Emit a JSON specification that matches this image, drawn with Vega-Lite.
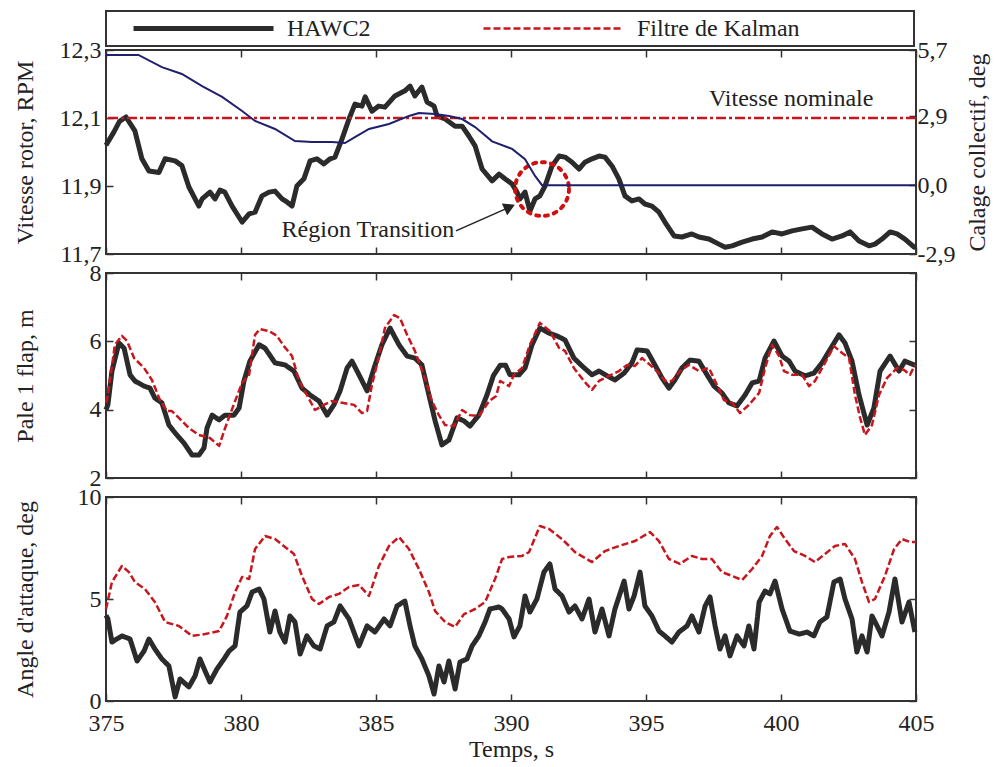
{
  "$schema": "https://vega.github.io/schema/vega-lite/v6.json",
  "padding": {"left": 11, "top": 10, "right": 5, "bottom": 5},
  "background": "white",
  "spacing": 19,
  "bounds": "flush",
  "config": {
    "font": "Liberation Serif",
    "view": {"stroke": "#333333", "strokeWidth": 2},
    "axis": {
      "grid": false, "domain": false,
      "labelFont": "Liberation Serif", "labelFontSize": 24, "labelColor": "#222222",
      "titleFont": "Liberation Serif", "titleFontSize": 24, "titleFontWeight": "normal", "titleColor": "#222222",
      "tickColor": "#333333", "tickWidth": 1.5, "tickSize": -7,
      "labelFlush": false, "labelOverlap": false
    },
    "legend": {
      "direction": "horizontal", "columns": 2,
      "strokeColor": "#333333", "strokeWidth": 2, "padding": 5,
      "symbolType": "stroke", "symbolSize": 19600,
      "symbolOffset": 20, "labelOffset": 11, "columnPadding": 90,
      "clipHeight": 25,
      "labelFont": "Liberation Serif", "labelFontSize": 24, "labelColor": "#222222", "labelLimit": 400,
      "titleOrient": "right", "titlePadding": 109, "titleFont": "Liberation Serif", "titleFontSize": 24
    }
  },
  "resolve": {"scale": {"color": "shared", "strokeDash": "shared", "strokeWidth": "shared"}},
  "datasets": {
    "rotor": [
      {"t":375.0,"rpm":12.02},{"t":375.3,"rpm":12.06},{"t":375.5,"rpm":12.09},{"t":375.74,"rpm":12.103},{"t":376.07,"rpm":12.062},{"t":376.33,"rpm":11.98},{"t":376.59,"rpm":11.944},{"t":376.96,"rpm":11.94},{"t":377.19,"rpm":11.98},{"t":377.56,"rpm":11.974},{"t":377.81,"rpm":11.96},{"t":378.07,"rpm":11.897},{"t":378.44,"rpm":11.841},{"t":378.56,"rpm":11.862},{"t":378.85,"rpm":11.882},{"t":379.04,"rpm":11.862},{"t":379.22,"rpm":11.888},{"t":379.4,"rpm":11.882},{"t":379.67,"rpm":11.841},{"t":380.04,"rpm":11.794},{"t":380.3,"rpm":11.818},{"t":380.52,"rpm":11.823},{"t":380.78,"rpm":11.871},{"t":381.04,"rpm":11.882},{"t":381.26,"rpm":11.885},{"t":381.52,"rpm":11.862},{"t":381.7,"rpm":11.853},{"t":381.89,"rpm":11.841},{"t":382.07,"rpm":11.9},{"t":382.33,"rpm":11.921},{"t":382.56,"rpm":11.974},{"t":382.81,"rpm":11.98},{"t":383.07,"rpm":11.965},{"t":383.3,"rpm":11.98},{"t":383.48,"rpm":11.985},{"t":383.74,"rpm":12.038},{"t":384.0,"rpm":12.097},{"t":384.22,"rpm":12.141},{"t":384.48,"rpm":12.135},{"t":384.6,"rpm":12.162},{"t":384.85,"rpm":12.12},{"t":385.1,"rpm":12.135},{"t":385.33,"rpm":12.132},{"t":385.7,"rpm":12.165},{"t":386.07,"rpm":12.18},{"t":386.26,"rpm":12.194},{"t":386.44,"rpm":12.165},{"t":386.7,"rpm":12.191},{"t":386.89,"rpm":12.147},{"t":387.15,"rpm":12.135},{"t":387.26,"rpm":12.106},{"t":387.56,"rpm":12.097},{"t":387.93,"rpm":12.076},{"t":388.19,"rpm":12.076},{"t":388.44,"rpm":12.047},{"t":388.67,"rpm":12.018},{"t":388.93,"rpm":11.95},{"t":389.3,"rpm":11.915},{"t":389.56,"rpm":11.935},{"t":389.8,"rpm":11.92},{"t":390.04,"rpm":11.906},{"t":390.22,"rpm":11.882},{"t":390.33,"rpm":11.862},{"t":390.52,"rpm":11.882},{"t":390.7,"rpm":11.826},{"t":390.89,"rpm":11.862},{"t":391.07,"rpm":11.871},{"t":391.26,"rpm":11.9},{"t":391.52,"rpm":11.959},{"t":391.78,"rpm":11.988},{"t":392.0,"rpm":11.985},{"t":392.26,"rpm":11.97},{"t":392.52,"rpm":11.95},{"t":392.74,"rpm":11.97},{"t":393.0,"rpm":11.98},{"t":393.26,"rpm":11.988},{"t":393.48,"rpm":11.985},{"t":393.74,"rpm":11.959},{"t":394.0,"rpm":11.92},{"t":394.22,"rpm":11.871},{"t":394.48,"rpm":11.856},{"t":394.74,"rpm":11.862},{"t":394.96,"rpm":11.847},{"t":395.22,"rpm":11.841},{"t":395.48,"rpm":11.823},{"t":395.7,"rpm":11.794},{"t":396.04,"rpm":11.753},{"t":396.33,"rpm":11.75},{"t":396.7,"rpm":11.759},{"t":396.96,"rpm":11.75},{"t":397.33,"rpm":11.744},{"t":397.7,"rpm":11.729},{"t":397.93,"rpm":11.72},{"t":398.19,"rpm":11.724},{"t":398.56,"rpm":11.735},{"t":398.93,"rpm":11.744},{"t":399.3,"rpm":11.75},{"t":399.67,"rpm":11.765},{"t":400.04,"rpm":11.759},{"t":400.41,"rpm":11.768},{"t":400.78,"rpm":11.774},{"t":401.15,"rpm":11.779},{"t":401.52,"rpm":11.759},{"t":401.89,"rpm":11.744},{"t":402.26,"rpm":11.753},{"t":402.56,"rpm":11.765},{"t":402.89,"rpm":11.738},{"t":403.26,"rpm":11.724},{"t":403.48,"rpm":11.729},{"t":403.74,"rpm":11.744},{"t":404.04,"rpm":11.765},{"t":404.3,"rpm":11.759},{"t":404.59,"rpm":11.744},{"t":404.93,"rpm":11.72},{"t":405.0,"rpm":11.72}
    ],
    "pitch": [
      {"t":375.0,"deg":5.49},{"t":376.2,"deg":5.49},{"t":377.07,"deg":4.98},{"t":377.81,"deg":4.69},{"t":378.56,"deg":4.18},{"t":379.3,"deg":3.72},{"t":380.04,"deg":3.13},{"t":380.52,"deg":2.71},{"t":381.26,"deg":2.37},{"t":382.0,"deg":1.86},{"t":382.63,"deg":1.82},{"t":383.37,"deg":1.82},{"t":383.85,"deg":1.78},{"t":384.22,"deg":2.03},{"t":384.74,"deg":2.37},{"t":385.48,"deg":2.58},{"t":386.22,"deg":2.92},{"t":386.59,"deg":3.04},{"t":387.19,"deg":3.0},{"t":387.7,"deg":2.92},{"t":388.19,"deg":2.79},{"t":388.67,"deg":2.45},{"t":389.3,"deg":1.85},{"t":390.04,"deg":1.53},{"t":390.52,"deg":1.1},{"t":390.89,"deg":0.39},{"t":391.15,"deg":0.0},{"t":405.0,"deg":0.0}
    ],
    "flap": [
      {"t":375.0,"m":4.0,"source":"HAWC2"},{"t":375.07,"m":4.14,"source":"HAWC2"},{"t":375.22,"m":5.13,"source":"HAWC2"},{"t":375.48,"m":5.95,"source":"HAWC2"},{"t":375.67,"m":5.8,"source":"HAWC2"},{"t":375.89,"m":5.02,"source":"HAWC2"},{"t":376.07,"m":4.84,"source":"HAWC2"},{"t":376.41,"m":4.69,"source":"HAWC2"},{"t":376.63,"m":4.63,"source":"HAWC2"},{"t":376.81,"m":4.34,"source":"HAWC2"},{"t":377.07,"m":4.2,"source":"HAWC2"},{"t":377.33,"m":3.55,"source":"HAWC2"},{"t":377.56,"m":3.32,"source":"HAWC2"},{"t":377.89,"m":3.02,"source":"HAWC2"},{"t":378.19,"m":2.67,"source":"HAWC2"},{"t":378.44,"m":2.67,"source":"HAWC2"},{"t":378.63,"m":2.88,"source":"HAWC2"},{"t":378.74,"m":3.46,"source":"HAWC2"},{"t":378.93,"m":3.84,"source":"HAWC2"},{"t":379.19,"m":3.7,"source":"HAWC2"},{"t":379.41,"m":3.84,"source":"HAWC2"},{"t":379.74,"m":3.84,"source":"HAWC2"},{"t":379.93,"m":4.05,"source":"HAWC2"},{"t":380.11,"m":4.84,"source":"HAWC2"},{"t":380.33,"m":5.42,"source":"HAWC2"},{"t":380.67,"m":5.9,"source":"HAWC2"},{"t":380.89,"m":5.8,"source":"HAWC2"},{"t":381.26,"m":5.37,"source":"HAWC2"},{"t":381.63,"m":5.31,"source":"HAWC2"},{"t":381.96,"m":5.13,"source":"HAWC2"},{"t":382.26,"m":4.63,"source":"HAWC2"},{"t":382.56,"m":4.43,"source":"HAWC2"},{"t":382.89,"m":4.25,"source":"HAWC2"},{"t":383.19,"m":3.84,"source":"HAWC2"},{"t":383.44,"m":4.14,"source":"HAWC2"},{"t":383.67,"m":4.55,"source":"HAWC2"},{"t":383.93,"m":5.22,"source":"HAWC2"},{"t":384.11,"m":5.42,"source":"HAWC2"},{"t":384.37,"m":5.02,"source":"HAWC2"},{"t":384.67,"m":4.55,"source":"HAWC2"},{"t":384.93,"m":5.22,"source":"HAWC2"},{"t":385.22,"m":5.9,"source":"HAWC2"},{"t":385.52,"m":6.39,"source":"HAWC2"},{"t":385.85,"m":5.9,"source":"HAWC2"},{"t":386.15,"m":5.57,"source":"HAWC2"},{"t":386.44,"m":5.51,"source":"HAWC2"},{"t":386.7,"m":5.31,"source":"HAWC2"},{"t":386.96,"m":4.43,"source":"HAWC2"},{"t":387.19,"m":3.67,"source":"HAWC2"},{"t":387.44,"m":2.97,"source":"HAWC2"},{"t":387.7,"m":3.11,"source":"HAWC2"},{"t":388.0,"m":3.76,"source":"HAWC2"},{"t":388.26,"m":3.67,"source":"HAWC2"},{"t":388.48,"m":3.52,"source":"HAWC2"},{"t":388.81,"m":3.84,"source":"HAWC2"},{"t":389.11,"m":4.43,"source":"HAWC2"},{"t":389.35,"m":5.0,"source":"HAWC2"},{"t":389.6,"m":5.3,"source":"HAWC2"},{"t":389.8,"m":5.3,"source":"HAWC2"},{"t":389.96,"m":5.02,"source":"HAWC2"},{"t":390.3,"m":5.02,"source":"HAWC2"},{"t":390.52,"m":5.22,"source":"HAWC2"},{"t":390.78,"m":5.9,"source":"HAWC2"},{"t":391.07,"m":6.39,"source":"HAWC2"},{"t":391.41,"m":6.24,"source":"HAWC2"},{"t":391.7,"m":6.16,"source":"HAWC2"},{"t":392.0,"m":6.04,"source":"HAWC2"},{"t":392.33,"m":5.51,"source":"HAWC2"},{"t":392.63,"m":5.28,"source":"HAWC2"},{"t":393.0,"m":5.02,"source":"HAWC2"},{"t":393.26,"m":5.13,"source":"HAWC2"},{"t":393.56,"m":4.99,"source":"HAWC2"},{"t":393.85,"m":4.87,"source":"HAWC2"},{"t":394.19,"m":5.07,"source":"HAWC2"},{"t":394.48,"m":5.37,"source":"HAWC2"},{"t":394.67,"m":5.75,"source":"HAWC2"},{"t":395.04,"m":5.72,"source":"HAWC2"},{"t":395.33,"m":5.31,"source":"HAWC2"},{"t":395.59,"m":4.93,"source":"HAWC2"},{"t":395.85,"m":4.63,"source":"HAWC2"},{"t":396.07,"m":4.87,"source":"HAWC2"},{"t":396.33,"m":5.22,"source":"HAWC2"},{"t":396.63,"m":5.45,"source":"HAWC2"},{"t":396.96,"m":5.42,"source":"HAWC2"},{"t":397.26,"m":5.02,"source":"HAWC2"},{"t":397.52,"m":4.69,"source":"HAWC2"},{"t":397.81,"m":4.49,"source":"HAWC2"},{"t":398.07,"m":4.2,"source":"HAWC2"},{"t":398.37,"m":4.11,"source":"HAWC2"},{"t":398.67,"m":4.43,"source":"HAWC2"},{"t":398.93,"m":4.78,"source":"HAWC2"},{"t":399.19,"m":4.84,"source":"HAWC2"},{"t":399.41,"m":5.51,"source":"HAWC2"},{"t":399.74,"m":6.01,"source":"HAWC2"},{"t":400.04,"m":5.57,"source":"HAWC2"},{"t":400.3,"m":5.42,"source":"HAWC2"},{"t":400.52,"m":5.13,"source":"HAWC2"},{"t":400.89,"m":4.99,"source":"HAWC2"},{"t":401.22,"m":5.07,"source":"HAWC2"},{"t":401.52,"m":5.37,"source":"HAWC2"},{"t":401.81,"m":5.75,"source":"HAWC2"},{"t":402.15,"m":6.19,"source":"HAWC2"},{"t":402.37,"m":5.95,"source":"HAWC2"},{"t":402.63,"m":5.42,"source":"HAWC2"},{"t":402.89,"m":4.43,"source":"HAWC2"},{"t":403.19,"m":3.55,"source":"HAWC2"},{"t":403.44,"m":4.05,"source":"HAWC2"},{"t":403.67,"m":5.13,"source":"HAWC2"},{"t":404.04,"m":5.57,"source":"HAWC2"},{"t":404.37,"m":5.13,"source":"HAWC2"},{"t":404.59,"m":5.42,"source":"HAWC2"},{"t":404.93,"m":5.31,"source":"HAWC2"},{"t":405.0,"m":5.3,"source":"HAWC2"},
      {"t":375.0,"m":4.2,"source":"Filtre de Kalman"},{"t":375.07,"m":4.43,"source":"Filtre de Kalman"},{"t":375.33,"m":5.9,"source":"Filtre de Kalman"},{"t":375.59,"m":6.16,"source":"Filtre de Kalman"},{"t":375.78,"m":6.01,"source":"Filtre de Kalman"},{"t":376.04,"m":5.51,"source":"Filtre de Kalman"},{"t":376.41,"m":5.22,"source":"Filtre de Kalman"},{"t":376.7,"m":4.87,"source":"Filtre de Kalman"},{"t":377.0,"m":4.28,"source":"Filtre de Kalman"},{"t":377.26,"m":3.96,"source":"Filtre de Kalman"},{"t":377.44,"m":3.96,"source":"Filtre de Kalman"},{"t":377.7,"m":3.76,"source":"Filtre de Kalman"},{"t":378.07,"m":3.46,"source":"Filtre de Kalman"},{"t":378.44,"m":3.26,"source":"Filtre de Kalman"},{"t":378.85,"m":3.17,"source":"Filtre de Kalman"},{"t":379.19,"m":2.94,"source":"Filtre de Kalman"},{"t":379.41,"m":3.46,"source":"Filtre de Kalman"},{"t":379.78,"m":4.25,"source":"Filtre de Kalman"},{"t":380.04,"m":4.78,"source":"Filtre de Kalman"},{"t":380.3,"m":5.02,"source":"Filtre de Kalman"},{"t":380.52,"m":6.19,"source":"Filtre de Kalman"},{"t":380.7,"m":6.36,"source":"Filtre de Kalman"},{"t":381.04,"m":6.3,"source":"Filtre de Kalman"},{"t":381.33,"m":6.16,"source":"Filtre de Kalman"},{"t":381.59,"m":5.86,"source":"Filtre de Kalman"},{"t":381.89,"m":5.57,"source":"Filtre de Kalman"},{"t":382.15,"m":4.84,"source":"Filtre de Kalman"},{"t":382.44,"m":4.43,"source":"Filtre de Kalman"},{"t":382.74,"m":3.99,"source":"Filtre de Kalman"},{"t":383.07,"m":4.14,"source":"Filtre de Kalman"},{"t":383.37,"m":4.25,"source":"Filtre de Kalman"},{"t":383.74,"m":4.2,"source":"Filtre de Kalman"},{"t":384.19,"m":4.14,"source":"Filtre de Kalman"},{"t":384.48,"m":3.9,"source":"Filtre de Kalman"},{"t":384.67,"m":3.96,"source":"Filtre de Kalman"},{"t":384.85,"m":4.72,"source":"Filtre de Kalman"},{"t":385.11,"m":5.57,"source":"Filtre de Kalman"},{"t":385.33,"m":6.39,"source":"Filtre de Kalman"},{"t":385.67,"m":6.77,"source":"Filtre de Kalman"},{"t":385.89,"m":6.68,"source":"Filtre de Kalman"},{"t":386.15,"m":6.19,"source":"Filtre de Kalman"},{"t":386.44,"m":5.72,"source":"Filtre de Kalman"},{"t":386.81,"m":4.93,"source":"Filtre de Kalman"},{"t":387.07,"m":4.25,"source":"Filtre de Kalman"},{"t":387.33,"m":3.84,"source":"Filtre de Kalman"},{"t":387.56,"m":3.55,"source":"Filtre de Kalman"},{"t":387.89,"m":3.52,"source":"Filtre de Kalman"},{"t":388.19,"m":3.99,"source":"Filtre de Kalman"},{"t":388.48,"m":3.84,"source":"Filtre de Kalman"},{"t":388.81,"m":3.81,"source":"Filtre de Kalman"},{"t":389.19,"m":4.25,"source":"Filtre de Kalman"},{"t":389.45,"m":4.4,"source":"Filtre de Kalman"},{"t":389.6,"m":4.84,"source":"Filtre de Kalman"},{"t":389.93,"m":4.69,"source":"Filtre de Kalman"},{"t":390.11,"m":5.02,"source":"Filtre de Kalman"},{"t":390.41,"m":5.22,"source":"Filtre de Kalman"},{"t":390.7,"m":5.9,"source":"Filtre de Kalman"},{"t":391.07,"m":6.54,"source":"Filtre de Kalman"},{"t":391.44,"m":6.3,"source":"Filtre de Kalman"},{"t":391.78,"m":5.81,"source":"Filtre de Kalman"},{"t":392.0,"m":5.72,"source":"Filtre de Kalman"},{"t":392.33,"m":5.22,"source":"Filtre de Kalman"},{"t":392.7,"m":4.84,"source":"Filtre de Kalman"},{"t":393.0,"m":4.58,"source":"Filtre de Kalman"},{"t":393.26,"m":4.84,"source":"Filtre de Kalman"},{"t":393.63,"m":4.99,"source":"Filtre de Kalman"},{"t":394.0,"m":5.13,"source":"Filtre de Kalman"},{"t":394.3,"m":5.31,"source":"Filtre de Kalman"},{"t":394.59,"m":5.28,"source":"Filtre de Kalman"},{"t":394.85,"m":5.51,"source":"Filtre de Kalman"},{"t":395.15,"m":5.31,"source":"Filtre de Kalman"},{"t":395.48,"m":5.07,"source":"Filtre de Kalman"},{"t":395.7,"m":4.84,"source":"Filtre de Kalman"},{"t":395.96,"m":4.84,"source":"Filtre de Kalman"},{"t":396.26,"m":5.13,"source":"Filtre de Kalman"},{"t":396.59,"m":5.31,"source":"Filtre de Kalman"},{"t":396.96,"m":5.13,"source":"Filtre de Kalman"},{"t":397.33,"m":5.22,"source":"Filtre de Kalman"},{"t":397.56,"m":4.84,"source":"Filtre de Kalman"},{"t":397.89,"m":4.28,"source":"Filtre de Kalman"},{"t":398.19,"m":4.2,"source":"Filtre de Kalman"},{"t":398.48,"m":3.9,"source":"Filtre de Kalman"},{"t":398.81,"m":4.14,"source":"Filtre de Kalman"},{"t":399.19,"m":4.49,"source":"Filtre de Kalman"},{"t":399.41,"m":5.22,"source":"Filtre de Kalman"},{"t":399.67,"m":5.9,"source":"Filtre de Kalman"},{"t":399.93,"m":5.57,"source":"Filtre de Kalman"},{"t":400.11,"m":5.13,"source":"Filtre de Kalman"},{"t":400.41,"m":5.02,"source":"Filtre de Kalman"},{"t":400.78,"m":5.02,"source":"Filtre de Kalman"},{"t":401.04,"m":4.69,"source":"Filtre de Kalman"},{"t":401.26,"m":4.84,"source":"Filtre de Kalman"},{"t":401.63,"m":5.37,"source":"Filtre de Kalman"},{"t":401.96,"m":5.86,"source":"Filtre de Kalman"},{"t":402.26,"m":5.66,"source":"Filtre de Kalman"},{"t":402.52,"m":5.51,"source":"Filtre de Kalman"},{"t":402.74,"m":4.43,"source":"Filtre de Kalman"},{"t":402.93,"m":3.76,"source":"Filtre de Kalman"},{"t":403.11,"m":3.26,"source":"Filtre de Kalman"},{"t":403.37,"m":3.55,"source":"Filtre de Kalman"},{"t":403.63,"m":4.43,"source":"Filtre de Kalman"},{"t":403.93,"m":4.93,"source":"Filtre de Kalman"},{"t":404.3,"m":5.22,"source":"Filtre de Kalman"},{"t":404.56,"m":5.16,"source":"Filtre de Kalman"},{"t":404.78,"m":5.02,"source":"Filtre de Kalman"},{"t":404.96,"m":5.31,"source":"Filtre de Kalman"}
    ],
    "aoa": [
      {"t":375.0,"deg":4.2,"source":"HAWC2"},{"t":375.07,"deg":4.02,"source":"HAWC2"},{"t":375.22,"deg":2.89,"source":"HAWC2"},{"t":375.59,"deg":3.19,"source":"HAWC2"},{"t":375.89,"deg":3.04,"source":"HAWC2"},{"t":376.15,"deg":1.96,"source":"HAWC2"},{"t":376.41,"deg":2.45,"source":"HAWC2"},{"t":376.59,"deg":3.04,"source":"HAWC2"},{"t":376.81,"deg":2.55,"source":"HAWC2"},{"t":377.07,"deg":2.06,"source":"HAWC2"},{"t":377.33,"deg":1.72,"source":"HAWC2"},{"t":377.56,"deg":0.2,"source":"HAWC2"},{"t":377.74,"deg":1.08,"source":"HAWC2"},{"t":378.07,"deg":0.69,"source":"HAWC2"},{"t":378.3,"deg":1.23,"source":"HAWC2"},{"t":378.48,"deg":2.06,"source":"HAWC2"},{"t":378.67,"deg":1.47,"source":"HAWC2"},{"t":378.85,"deg":0.93,"source":"HAWC2"},{"t":379.11,"deg":1.57,"source":"HAWC2"},{"t":379.37,"deg":2.06,"source":"HAWC2"},{"t":379.56,"deg":2.45,"source":"HAWC2"},{"t":379.78,"deg":2.7,"source":"HAWC2"},{"t":379.96,"deg":4.36,"source":"HAWC2"},{"t":380.22,"deg":4.66,"source":"HAWC2"},{"t":380.41,"deg":5.34,"source":"HAWC2"},{"t":380.67,"deg":5.49,"source":"HAWC2"},{"t":380.85,"deg":5.0,"source":"HAWC2"},{"t":381.07,"deg":3.38,"source":"HAWC2"},{"t":381.26,"deg":4.41,"source":"HAWC2"},{"t":381.44,"deg":3.38,"source":"HAWC2"},{"t":381.63,"deg":2.89,"source":"HAWC2"},{"t":381.81,"deg":4.17,"source":"HAWC2"},{"t":382.0,"deg":3.87,"source":"HAWC2"},{"t":382.19,"deg":2.3,"source":"HAWC2"},{"t":382.44,"deg":3.19,"source":"HAWC2"},{"t":382.7,"deg":2.7,"source":"HAWC2"},{"t":382.93,"deg":2.55,"source":"HAWC2"},{"t":383.19,"deg":3.68,"source":"HAWC2"},{"t":383.44,"deg":3.87,"source":"HAWC2"},{"t":383.67,"deg":4.66,"source":"HAWC2"},{"t":384.0,"deg":4.02,"source":"HAWC2"},{"t":384.37,"deg":2.7,"source":"HAWC2"},{"t":384.67,"deg":3.68,"source":"HAWC2"},{"t":384.96,"deg":3.38,"source":"HAWC2"},{"t":385.3,"deg":4.02,"source":"HAWC2"},{"t":385.52,"deg":3.68,"source":"HAWC2"},{"t":385.78,"deg":4.66,"source":"HAWC2"},{"t":386.07,"deg":4.9,"source":"HAWC2"},{"t":386.26,"deg":3.68,"source":"HAWC2"},{"t":386.44,"deg":2.7,"source":"HAWC2"},{"t":386.7,"deg":2.06,"source":"HAWC2"},{"t":386.96,"deg":1.23,"source":"HAWC2"},{"t":387.15,"deg":0.34,"source":"HAWC2"},{"t":387.33,"deg":1.72,"source":"HAWC2"},{"t":387.52,"deg":0.93,"source":"HAWC2"},{"t":387.7,"deg":1.96,"source":"HAWC2"},{"t":387.93,"deg":0.59,"source":"HAWC2"},{"t":388.11,"deg":1.91,"source":"HAWC2"},{"t":388.37,"deg":2.06,"source":"HAWC2"},{"t":388.56,"deg":2.7,"source":"HAWC2"},{"t":388.81,"deg":3.19,"source":"HAWC2"},{"t":389.04,"deg":3.87,"source":"HAWC2"},{"t":389.22,"deg":4.51,"source":"HAWC2"},{"t":389.56,"deg":4.61,"source":"HAWC2"},{"t":389.67,"deg":4.51,"source":"HAWC2"},{"t":389.93,"deg":4.02,"source":"HAWC2"},{"t":390.11,"deg":3.14,"source":"HAWC2"},{"t":390.33,"deg":3.68,"source":"HAWC2"},{"t":390.52,"deg":5.15,"source":"HAWC2"},{"t":390.7,"deg":4.36,"source":"HAWC2"},{"t":390.96,"deg":5.0,"source":"HAWC2"},{"t":391.22,"deg":6.32,"source":"HAWC2"},{"t":391.44,"deg":6.72,"source":"HAWC2"},{"t":391.63,"deg":5.49,"source":"HAWC2"},{"t":391.89,"deg":5.15,"source":"HAWC2"},{"t":392.15,"deg":4.36,"source":"HAWC2"},{"t":392.37,"deg":4.66,"source":"HAWC2"},{"t":392.63,"deg":4.02,"source":"HAWC2"},{"t":392.89,"deg":5.0,"source":"HAWC2"},{"t":393.11,"deg":3.38,"source":"HAWC2"},{"t":393.37,"deg":4.51,"source":"HAWC2"},{"t":393.63,"deg":3.19,"source":"HAWC2"},{"t":393.85,"deg":4.51,"source":"HAWC2"},{"t":394.19,"deg":5.88,"source":"HAWC2"},{"t":394.37,"deg":4.51,"source":"HAWC2"},{"t":394.56,"deg":5.15,"source":"HAWC2"},{"t":394.78,"deg":6.32,"source":"HAWC2"},{"t":394.96,"deg":4.66,"source":"HAWC2"},{"t":395.22,"deg":4.17,"source":"HAWC2"},{"t":395.48,"deg":3.43,"source":"HAWC2"},{"t":395.7,"deg":3.19,"source":"HAWC2"},{"t":395.96,"deg":2.89,"source":"HAWC2"},{"t":396.22,"deg":3.38,"source":"HAWC2"},{"t":396.52,"deg":3.68,"source":"HAWC2"},{"t":396.7,"deg":4.17,"source":"HAWC2"},{"t":396.96,"deg":3.38,"source":"HAWC2"},{"t":397.19,"deg":4.66,"source":"HAWC2"},{"t":397.37,"deg":5.1,"source":"HAWC2"},{"t":397.56,"deg":3.68,"source":"HAWC2"},{"t":397.74,"deg":2.55,"source":"HAWC2"},{"t":397.93,"deg":3.19,"source":"HAWC2"},{"t":398.11,"deg":2.21,"source":"HAWC2"},{"t":398.37,"deg":3.19,"source":"HAWC2"},{"t":398.63,"deg":2.7,"source":"HAWC2"},{"t":398.81,"deg":3.68,"source":"HAWC2"},{"t":399.0,"deg":2.55,"source":"HAWC2"},{"t":399.19,"deg":4.85,"source":"HAWC2"},{"t":399.41,"deg":5.39,"source":"HAWC2"},{"t":399.59,"deg":5.25,"source":"HAWC2"},{"t":399.78,"deg":5.88,"source":"HAWC2"},{"t":400.04,"deg":4.51,"source":"HAWC2"},{"t":400.33,"deg":3.43,"source":"HAWC2"},{"t":400.67,"deg":3.28,"source":"HAWC2"},{"t":400.96,"deg":3.38,"source":"HAWC2"},{"t":401.22,"deg":3.19,"source":"HAWC2"},{"t":401.44,"deg":3.87,"source":"HAWC2"},{"t":401.7,"deg":4.12,"source":"HAWC2"},{"t":401.96,"deg":5.83,"source":"HAWC2"},{"t":402.19,"deg":5.98,"source":"HAWC2"},{"t":402.37,"deg":5.0,"source":"HAWC2"},{"t":402.63,"deg":4.02,"source":"HAWC2"},{"t":402.81,"deg":2.4,"source":"HAWC2"},{"t":403.0,"deg":3.19,"source":"HAWC2"},{"t":403.19,"deg":2.4,"source":"HAWC2"},{"t":403.37,"deg":4.17,"source":"HAWC2"},{"t":403.56,"deg":3.68,"source":"HAWC2"},{"t":403.74,"deg":3.19,"source":"HAWC2"},{"t":404.0,"deg":4.36,"source":"HAWC2"},{"t":404.22,"deg":5.98,"source":"HAWC2"},{"t":404.48,"deg":3.87,"source":"HAWC2"},{"t":404.74,"deg":4.85,"source":"HAWC2"},{"t":404.96,"deg":3.38,"source":"HAWC2"},
      {"t":375.0,"deg":4.51,"source":"Filtre de Kalman"},{"t":375.22,"deg":5.83,"source":"Filtre de Kalman"},{"t":375.59,"deg":6.62,"source":"Filtre de Kalman"},{"t":375.85,"deg":6.32,"source":"Filtre de Kalman"},{"t":376.07,"deg":5.83,"source":"Filtre de Kalman"},{"t":376.44,"deg":5.49,"source":"Filtre de Kalman"},{"t":376.81,"deg":4.85,"source":"Filtre de Kalman"},{"t":377.19,"deg":3.87,"source":"Filtre de Kalman"},{"t":377.7,"deg":3.68,"source":"Filtre de Kalman"},{"t":378.19,"deg":3.19,"source":"Filtre de Kalman"},{"t":378.67,"deg":3.28,"source":"Filtre de Kalman"},{"t":379.19,"deg":3.43,"source":"Filtre de Kalman"},{"t":379.48,"deg":4.17,"source":"Filtre de Kalman"},{"t":379.78,"deg":5.34,"source":"Filtre de Kalman"},{"t":380.04,"deg":6.08,"source":"Filtre de Kalman"},{"t":380.3,"deg":5.98,"source":"Filtre de Kalman"},{"t":380.52,"deg":7.45,"source":"Filtre de Kalman"},{"t":380.89,"deg":8.09,"source":"Filtre de Kalman"},{"t":381.26,"deg":7.94,"source":"Filtre de Kalman"},{"t":381.63,"deg":7.55,"source":"Filtre de Kalman"},{"t":381.96,"deg":7.21,"source":"Filtre de Kalman"},{"t":382.26,"deg":6.13,"source":"Filtre de Kalman"},{"t":382.63,"deg":5.0,"source":"Filtre de Kalman"},{"t":382.89,"deg":4.75,"source":"Filtre de Kalman"},{"t":383.26,"deg":5.1,"source":"Filtre de Kalman"},{"t":383.63,"deg":5.25,"source":"Filtre de Kalman"},{"t":384.0,"deg":5.59,"source":"Filtre de Kalman"},{"t":384.37,"deg":5.69,"source":"Filtre de Kalman"},{"t":384.74,"deg":5.15,"source":"Filtre de Kalman"},{"t":385.11,"deg":6.62,"source":"Filtre de Kalman"},{"t":385.48,"deg":7.6,"source":"Filtre de Kalman"},{"t":385.85,"deg":8.04,"source":"Filtre de Kalman"},{"t":386.22,"deg":7.45,"source":"Filtre de Kalman"},{"t":386.59,"deg":6.47,"source":"Filtre de Kalman"},{"t":386.96,"deg":5.34,"source":"Filtre de Kalman"},{"t":387.19,"deg":4.41,"source":"Filtre de Kalman"},{"t":387.56,"deg":3.87,"source":"Filtre de Kalman"},{"t":387.93,"deg":3.63,"source":"Filtre de Kalman"},{"t":388.26,"deg":4.26,"source":"Filtre de Kalman"},{"t":388.67,"deg":4.51,"source":"Filtre de Kalman"},{"t":389.04,"deg":4.85,"source":"Filtre de Kalman"},{"t":389.41,"deg":5.98,"source":"Filtre de Kalman"},{"t":389.67,"deg":6.96,"source":"Filtre de Kalman"},{"t":389.93,"deg":7.06,"source":"Filtre de Kalman"},{"t":390.41,"deg":7.11,"source":"Filtre de Kalman"},{"t":390.67,"deg":7.3,"source":"Filtre de Kalman"},{"t":391.07,"deg":8.58,"source":"Filtre de Kalman"},{"t":391.41,"deg":8.43,"source":"Filtre de Kalman"},{"t":391.89,"deg":7.94,"source":"Filtre de Kalman"},{"t":392.37,"deg":7.3,"source":"Filtre de Kalman"},{"t":393.0,"deg":6.81,"source":"Filtre de Kalman"},{"t":393.48,"deg":7.35,"source":"Filtre de Kalman"},{"t":394.0,"deg":7.6,"source":"Filtre de Kalman"},{"t":394.59,"deg":7.84,"source":"Filtre de Kalman"},{"t":395.15,"deg":8.28,"source":"Filtre de Kalman"},{"t":395.48,"deg":7.84,"source":"Filtre de Kalman"},{"t":395.85,"deg":6.96,"source":"Filtre de Kalman"},{"t":396.26,"deg":6.72,"source":"Filtre de Kalman"},{"t":396.7,"deg":7.11,"source":"Filtre de Kalman"},{"t":397.07,"deg":6.96,"source":"Filtre de Kalman"},{"t":397.44,"deg":6.96,"source":"Filtre de Kalman"},{"t":397.81,"deg":6.32,"source":"Filtre de Kalman"},{"t":398.19,"deg":6.13,"source":"Filtre de Kalman"},{"t":398.56,"deg":5.93,"source":"Filtre de Kalman"},{"t":398.93,"deg":6.47,"source":"Filtre de Kalman"},{"t":399.3,"deg":7.11,"source":"Filtre de Kalman"},{"t":399.59,"deg":8.09,"source":"Filtre de Kalman"},{"t":399.85,"deg":8.53,"source":"Filtre de Kalman"},{"t":400.15,"deg":7.94,"source":"Filtre de Kalman"},{"t":400.48,"deg":7.35,"source":"Filtre de Kalman"},{"t":400.89,"deg":7.11,"source":"Filtre de Kalman"},{"t":401.26,"deg":6.81,"source":"Filtre de Kalman"},{"t":401.63,"deg":7.21,"source":"Filtre de Kalman"},{"t":402.0,"deg":7.6,"source":"Filtre de Kalman"},{"t":402.37,"deg":7.7,"source":"Filtre de Kalman"},{"t":402.74,"deg":6.96,"source":"Filtre de Kalman"},{"t":403.0,"deg":5.83,"source":"Filtre de Kalman"},{"t":403.26,"deg":4.85,"source":"Filtre de Kalman"},{"t":403.48,"deg":5.0,"source":"Filtre de Kalman"},{"t":403.85,"deg":6.13,"source":"Filtre de Kalman"},{"t":404.19,"deg":7.45,"source":"Filtre de Kalman"},{"t":404.48,"deg":7.94,"source":"Filtre de Kalman"},{"t":404.78,"deg":7.79,"source":"Filtre de Kalman"},{"t":405.0,"deg":7.79,"source":"Filtre de Kalman"}
    ]
  },
  "vconcat": [
    {
      "width": 810, "height": 204,
      "layer": [
        {
          "data": {"name": "rotor"},
          "mark": {"type": "line", "color": "#2b2b2b", "strokeWidth": 5, "strokeJoin": "round"},
          "encoding": {
            "x": {"field": "t", "type": "quantitative", "scale": {"domain": [375, 405], "nice": false, "zero": false},
                  "axis": {"orient": "bottom", "values": [375, 380, 385, 390, 395, 400, 405], "labels": false, "title": null}},
            "y": {"field": "rpm", "type": "quantitative", "scale": {"domain": [11.7, 12.3], "nice": false, "zero": false},
                  "axis": {"orient": "left", "values": [11.7, 11.9, 12.1, 12.3], "labelExpr": "replace(format(datum.value, '.1f'), '.', ',')",
                           "labelPadding": 12, "title": "Vitesse rotor, RPM", "titleX": -81, "titleBaseline": "middle"}}
          }
        },
        {
          "data": {"values": [{}]},
          "mark": {"type": "rule", "color": "#c8161d", "strokeWidth": 2.5, "strokeDash": [10, 3, 3, 3]},
          "encoding": {"y": {"datum": 12.1, "type": "quantitative", "scale": {"domain": [11.7, 12.3], "nice": false, "zero": false}, "axis": null}}
        },
        {
          "data": {"values": [{}]},
          "mark": {"type": "text", "text": "Vitesse nominale", "align": "left", "baseline": "middle", "font": "Liberation Serif", "fontSize": 24, "color": "#222222"},
          "encoding": {"x": {"datum": 397.33, "type": "quantitative", "axis": null},
                       "y": {"datum": 12.156, "type": "quantitative", "scale": {"domain": [11.7, 12.3], "nice": false, "zero": false}, "axis": null}}
        },
        {
          "data": {"values": [{}]},
          "mark": {"type": "text", "text": "Région Transition", "align": "right", "baseline": "middle", "font": "Liberation Serif", "fontSize": 24, "color": "#222222"},
          "encoding": {"x": {"datum": 387.9, "type": "quantitative", "axis": null},
                       "y": {"datum": 11.77, "type": "quantitative", "scale": {"domain": [11.7, 12.3], "nice": false, "zero": false}, "axis": null}}
        },
        {
          "data": {"values": [{}]},
          "mark": {"type": "rule", "color": "#222222", "strokeWidth": 1.5},
          "encoding": {"x": {"datum": 387.96, "type": "quantitative", "axis": null},
                       "y": {"datum": 11.768, "type": "quantitative", "scale": {"domain": [11.7, 12.3], "nice": false, "zero": false}, "axis": null},
                       "x2": {"datum": 389.95}, "y2": {"datum": 11.838}}
        },
        {
          "data": {"values": [{}]},
          "mark": {"type": "point", "shape": "triangle-right", "size": 170, "filled": true, "color": "#222222", "angle": -24, "opacity": 1},
          "encoding": {"x": {"datum": 389.95, "type": "quantitative", "axis": null},
                       "y": {"datum": 11.838, "type": "quantitative", "scale": {"domain": [11.7, 12.3], "nice": false, "zero": false}, "axis": null}}
        },
        {
          "data": {"values": [{}]},
          "mark": {"type": "point", "shape": "circle", "size": 2900, "filled": false, "color": "#d01010", "strokeWidth": 4, "strokeDash": [3, 6], "strokeCap": "round", "opacity": 1},
          "encoding": {"x": {"datum": 391.15, "type": "quantitative", "axis": null},
                       "y": {"datum": 11.891, "type": "quantitative", "scale": {"domain": [11.7, 12.3], "nice": false, "zero": false}, "axis": null}}
        },
        {
          "data": {"name": "pitch"},
          "mark": {"type": "line", "color": "#1f1f6e", "strokeWidth": 2},
          "encoding": {
            "x": {"field": "t", "type": "quantitative", "scale": {"domain": [375, 405], "nice": false, "zero": false},
                  "axis": {"orient": "top", "values": [375, 380, 385, 390, 395, 400, 405], "labels": false, "title": null}},
            "y": {"field": "deg", "type": "quantitative", "scale": {"domain": [-2.9, 5.7], "nice": false, "zero": false},
                  "axis": {"orient": "right", "values": [-2.9, 0, 2.9, 5.7], "labelExpr": "replace(replace(format(datum.value, '.1f'), '.', ','), '−', '-')",
                           "labelPadding": 8, "title": "Calage collectif, deg", "titleAngle": 270, "titleX": 61, "titleBaseline": "middle"}}
          }
        }
      ],
      "resolve": {"scale": {"y": "independent"}}
    },
    {
      "width": 810, "height": 205,
      "data": {"name": "flap"},
      "layer": [
        {
          "transform": [{"filter": "datum.source == 'HAWC2'"}],
          "mark": {"type": "line", "strokeJoin": "round"},
          "encoding": {
            "x": {"field": "t", "type": "quantitative", "scale": {"domain": [375, 405], "nice": false, "zero": false},
                  "axis": {"orient": "bottom", "values": [375, 380, 385, 390, 395, 400, 405], "labels": false, "title": null}},
            "y": {"field": "m", "type": "quantitative", "scale": {"domain": [2, 8], "nice": false, "zero": false},
                  "axis": {"orient": "left", "values": [2, 4, 6, 8], "labelPadding": 12, "title": "Pale 1 flap, m", "titleX": -81, "titleBaseline": "middle"}},
            "color": {"field": "source", "type": "nominal", "scale": {"domain": ["HAWC2", "Filtre de Kalman"], "range": ["#2b2b2b", "#c8161d"]},
                      "legend": {"title": " ", "orient": "none", "legendX": 0, "legendY": -39}},
            "strokeDash": {"field": "source", "type": "nominal", "scale": {"domain": ["HAWC2", "Filtre de Kalman"], "range": [[1, 0], [7, 3]]},
                      "legend": {"title": " ", "orient": "none", "legendX": 0, "legendY": -39}},
            "strokeWidth": {"field": "source", "type": "ordinal", "scale": {"domain": ["HAWC2", "Filtre de Kalman"], "range": [5, 2.5]},
                      "legend": {"title": " ", "orient": "none", "legendX": 0, "legendY": -39}}
          }
        },
        {
          "transform": [{"filter": "datum.source == 'Filtre de Kalman'"}],
          "mark": {"type": "line", "strokeJoin": "round"},
          "encoding": {
            "x": {"field": "t", "type": "quantitative", "scale": {"domain": [375, 405], "nice": false, "zero": false},
                  "axis": {"orient": "top", "values": [375, 380, 385, 390, 395, 400, 405], "labels": false, "title": null}},
            "y": {"field": "m", "type": "quantitative", "scale": {"domain": [2, 8], "nice": false, "zero": false},
                  "axis": {"orient": "right", "values": [2, 4, 6, 8], "labels": false, "title": null}},
            "color": {"field": "source", "type": "nominal", "scale": {"domain": ["HAWC2", "Filtre de Kalman"], "range": ["#2b2b2b", "#c8161d"]},
                      "legend": {"title": " ", "orient": "none", "legendX": 0, "legendY": -39}},
            "strokeDash": {"field": "source", "type": "nominal", "scale": {"domain": ["HAWC2", "Filtre de Kalman"], "range": [[1, 0], [7, 3]]},
                      "legend": {"title": " ", "orient": "none", "legendX": 0, "legendY": -39}},
            "strokeWidth": {"field": "source", "type": "ordinal", "scale": {"domain": ["HAWC2", "Filtre de Kalman"], "range": [5, 2.5]},
                      "legend": {"title": " ", "orient": "none", "legendX": 0, "legendY": -39}}
          }
        }
      ]
    },
    {
      "width": 810, "height": 204,
      "data": {"name": "aoa"},
      "layer": [
        {
          "transform": [{"filter": "datum.source == 'HAWC2'"}],
          "mark": {"type": "line", "strokeJoin": "round"},
          "encoding": {
            "x": {"field": "t", "type": "quantitative", "scale": {"domain": [375, 405], "nice": false, "zero": false},
                  "axis": {"orient": "bottom", "values": [375, 380, 385, 390, 395, 400, 405], "labelPadding": 17, "title": "Temps, s", "titlePadding": 2}},
            "y": {"field": "deg", "type": "quantitative", "scale": {"domain": [0, 10], "nice": false, "zero": false},
                  "axis": {"orient": "left", "values": [0, 5, 10], "labelPadding": 12, "title": "Angle d'attaque, deg", "titleX": -81, "titleBaseline": "middle"}},
            "color": {"field": "source", "type": "nominal", "scale": {"domain": ["HAWC2", "Filtre de Kalman"], "range": ["#2b2b2b", "#c8161d"]},
                      "legend": {"title": " ", "orient": "none", "legendX": 0, "legendY": -39}},
            "strokeDash": {"field": "source", "type": "nominal", "scale": {"domain": ["HAWC2", "Filtre de Kalman"], "range": [[1, 0], [7, 3]]},
                      "legend": {"title": " ", "orient": "none", "legendX": 0, "legendY": -39}},
            "strokeWidth": {"field": "source", "type": "ordinal", "scale": {"domain": ["HAWC2", "Filtre de Kalman"], "range": [5, 2.5]},
                      "legend": {"title": " ", "orient": "none", "legendX": 0, "legendY": -39}}
          }
        },
        {
          "transform": [{"filter": "datum.source == 'Filtre de Kalman'"}],
          "mark": {"type": "line", "strokeJoin": "round"},
          "encoding": {
            "x": {"field": "t", "type": "quantitative", "scale": {"domain": [375, 405], "nice": false, "zero": false},
                  "axis": {"orient": "top", "values": [375, 380, 385, 390, 395, 400, 405], "labels": false, "title": null}},
            "y": {"field": "deg", "type": "quantitative", "scale": {"domain": [0, 10], "nice": false, "zero": false},
                  "axis": {"orient": "right", "values": [0, 5, 10], "labels": false, "title": null}},
            "color": {"field": "source", "type": "nominal", "scale": {"domain": ["HAWC2", "Filtre de Kalman"], "range": ["#2b2b2b", "#c8161d"]},
                      "legend": {"title": " ", "orient": "none", "legendX": 0, "legendY": -39}},
            "strokeDash": {"field": "source", "type": "nominal", "scale": {"domain": ["HAWC2", "Filtre de Kalman"], "range": [[1, 0], [7, 3]]},
                      "legend": {"title": " ", "orient": "none", "legendX": 0, "legendY": -39}},
            "strokeWidth": {"field": "source", "type": "ordinal", "scale": {"domain": ["HAWC2", "Filtre de Kalman"], "range": [5, 2.5]},
                      "legend": {"title": " ", "orient": "none", "legendX": 0, "legendY": -39}}
          }
        }
      ]
    }
  ]
}
